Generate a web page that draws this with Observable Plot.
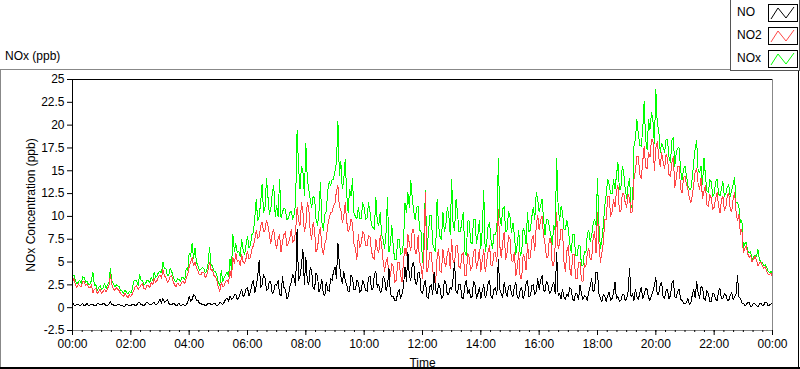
<!DOCTYPE html>
<html>
<head>
<meta charset="utf-8">
<script src="https://cdn.jsdelivr.net/npm/d3@7"></script>
<script src="https://cdn.jsdelivr.net/npm/@observablehq/plot@0.6"></script>
<style>
  html, body { margin: 0; padding: 0; background: #fff; }
  #wrap { position: relative; width: 800px; height: 369px; overflow: hidden; font-family: "Liberation Sans", Arial, sans-serif; font-size: 12px; color: #000; }
  #chart { position: absolute; left: 0; top: 0; }
  .deco { position: absolute; }
  #title { position: absolute; left: 5px; top: 49px; font-size: 12px; }
  #legend { position: absolute; left: 730px; top: 0; width: 68px; height: 70px; background: #fff; border: 1px solid #555; border-top: none; }
  .lg-item { position: absolute; left: 6px; font-size: 12px; }
  .lg-sw { position: absolute; left: 37px; width: 28px; height: 16px; border: 1px solid #000; background: #fff; }
</style>
</head>
<body>
<div id="wrap">
  <div class="deco" style="left:0;top:69px;width:730px;height:1px;background:#888"></div>
  <div class="deco" style="left:0;top:69px;width:1px;height:300px;background:#888"></div>
  <div class="deco" style="left:0;top:367px;width:800px;height:2px;background:#000"></div>
  <div class="deco" style="left:798px;top:71px;width:1px;height:298px;background:#000"></div>
  <div id="chart"></div>
  <div id="title">NOx (ppb)</div>
  <div id="legend"></div>
</div>
<script>
// sampling step of the readings, minutes (00:00 .. 24:00)
const stepMinutes = 3;

// NO2 (red), one row per hour
const no2 = [
  2.8, 3.2, 2.5, 2.2, 2.6, 2.4, 2.3, 2.9, 2.9, 2.4, 2.6, 2.2, 2.2, 2.5, 1.6, 2.0, 2.1, 1.5, 1.8, 2.0,
  1.5, 1.8, 2.0, 1.7, 2.1, 2.4, 3.6, 2.5, 2.1, 1.9, 2.2, 2.0, 1.9, 1.5, 1.4, 1.2, 1.6, 1.3, 1.1, 1.4,
  1.2, 1.5, 1.9, 2.3, 2.4, 2.0, 2.2, 2.5, 2.6, 2.1, 2.0, 2.4, 2.4, 2.2, 2.8, 2.5, 3.2, 2.8, 3.0, 3.4,
  3.6, 3.2, 4.2, 3.5, 3.3, 2.8, 2.9, 3.4, 3.5, 2.9, 2.5, 2.3, 2.7, 2.5, 2.4, 2.8, 2.9, 2.6, 3.3, 3.6,
  4.5, 5.0, 5.5, 4.6, 5.0, 4.4, 4.0, 3.6, 3.6, 3.9, 3.9, 3.3, 3.5, 4.2, 5.0, 4.1, 4.2, 3.5, 3.4, 3.0,
  2.2, 1.8, 2.8, 2.3, 2.4, 2.9, 3.0, 2.7, 4.0, 3.3, 5.5, 4.8, 6.0, 5.0, 5.2, 4.6, 5.8, 5.0, 4.8, 5.4,
  6.2, 5.3, 5.5, 6.4, 6.8, 7.5, 8.5, 7.6, 7.8, 8.9, 9.4, 8.3, 8.5, 9.6, 9.0, 8.0, 7.0, 8.2, 8.6, 7.2,
  6.5, 7.6, 8.0, 6.1, 7.2, 8.0, 8.3, 6.8, 7.0, 7.6, 8.6, 7.1, 7.4, 8.4, 11.0, 9.6, 9.0, 11.5, 10.5, 8.3,
  9.0, 11.5, 11.0, 8.4, 7.5, 9.3, 8.5, 6.1, 6.5, 8.0, 8.8, 6.6, 5.8, 7.0, 7.5, 9.0, 9.8, 10.4, 10.5, 11.1,
  11.5, 12.8, 13.4, 11.0, 10.8, 9.3, 10.0, 11.5, 9.5, 8.3, 8.6, 9.7, 9.2, 7.0, 6.5, 5.3, 8.0, 6.6, 7.0, 8.3,
  8.0, 6.8, 6.8, 7.9, 7.8, 6.2, 5.5, 5.3, 7.5, 6.4, 6.0, 7.9, 6.8, 5.1, 4.0, 5.0, 5.5, 3.2, 3.5, 4.8,
  4.5, 2.8, 3.0, 4.9, 5.0, 3.6, 2.8, 5.3, 6.5, 5.7, 8.0, 7.0, 6.2, 8.6, 8.6, 5.9, 6.0, 7.9, 5.0, 4.6,
  3.2, 6.0, 12.6, 3.9, 4.5, 6.1, 6.0, 4.2, 3.0, 2.8, 5.5, 6.4, 4.0, 3.9, 6.4, 5.1, 4.5, 6.0, 6.5, 4.3,
  7.5, 5.0, 4.8, 6.8, 6.8, 4.5, 4.3, 5.8, 6.0, 3.5, 3.5, 5.9, 5.5, 4.1, 4.5, 6.1, 6.4, 4.3, 5.0, 6.4,
  4.0, 5.2, 6.4, 3.9, 5.0, 6.2, 6.8, 4.6, 4.6, 6.0, 6.0, 5.0, 10.8, 6.8, 5.5, 7.2, 8.3, 5.3, 6.0, 7.9,
  7.5, 5.2, 5.0, 6.1, 3.5, 4.4, 6.0, 3.2, 3.2, 5.8, 5.5, 4.1, 7.0, 5.3, 5.5, 7.5, 7.9, 6.2, 9.0, 10.1,
  8.5, 9.6, 10.0, 7.9, 7.0, 5.5, 5.5, 7.6, 7.5, 4.6, 4.6, 6.8, 10.4, 6.5, 7.0, 8.6, 8.6, 5.0, 4.0, 6.2,
  6.8, 4.3, 3.5, 5.8, 5.8, 3.2, 3.2, 5.0, 5.0, 3.0, 2.8, 4.8, 4.5, 5.9, 6.5, 5.3, 5.3, 7.6, 8.3, 6.0,
  10.4, 7.0, 5.0, 6.0, 7.1, 9.7, 9.7, 12.2, 12.2, 10.0, 10.5, 11.8, 11.0, 12.8, 13.4, 10.5, 10.5, 12.5, 12.5, 11.5,
  11.0, 12.4, 12.0, 10.4, 10.5, 14.1, 15.0, 16.6, 16.6, 14.6, 14.1, 16.0, 17.7, 15.4, 15.2, 17.0, 16.5, 18.4, 18.4, 15.0,
  17.5, 18.2, 16.5, 15.5, 17.0, 16.0, 15.2, 16.8, 16.3, 14.6, 14.4, 15.9, 16.6, 13.2, 14.1, 15.5, 15.5, 13.0, 12.6, 14.3,
  14.4, 13.5, 13.0, 12.0, 11.5, 12.3, 13.5, 15.0, 15.2, 13.6, 13.0, 14.2, 12.0, 12.8, 13.4, 11.3, 11.1, 12.4, 12.0, 10.8,
  11.0, 12.0, 12.6, 11.2, 10.4, 11.8, 12.2, 10.6, 11.0, 12.3, 12.5, 10.8, 10.5, 11.9, 12.6, 10.6, 9.5, 10.2, 8.0, 8.6,
  6.0, 6.5, 6.8, 5.9, 5.5, 5.7, 5.0, 5.3, 5.6, 5.2, 4.6, 4.9, 5.0, 4.6, 4.3, 4.5, 4.0, 3.7, 3.6, 3.8, 3.4
];

// NOx (green)
const nox = [
  3.4, 3.6, 2.9, 2.6, 2.8, 3.0, 2.6, 3.4, 3.3, 2.8, 2.9, 2.5, 2.6, 3.0, 3.9, 2.4, 2.5, 1.9, 2.2, 2.4,
  2.0, 2.2, 2.6, 2.1, 2.5, 2.8, 4.3, 2.9, 2.6, 2.3, 2.5, 2.4, 2.3, 1.9, 1.8, 1.6, 1.9, 1.7, 1.5, 1.8,
  1.6, 2.0, 2.9, 3.0, 3.0, 2.4, 3.6, 3.0, 3.0, 2.5, 2.6, 3.0, 3.0, 2.7, 3.3, 3.0, 3.9, 3.3, 3.5, 3.9,
  4.0, 3.8, 5.0, 4.3, 4.3, 3.5, 3.5, 4.3, 4.0, 3.4, 3.0, 2.8, 3.2, 3.1, 2.9, 3.3, 3.3, 3.1, 4.3, 4.1,
  6.0, 5.6, 7.1, 5.4, 6.5, 5.0, 4.6, 4.1, 4.2, 4.4, 4.3, 3.8, 4.0, 4.9, 6.6, 4.7, 4.6, 4.0, 4.0, 3.5,
  2.8, 2.4, 4.1, 2.9, 3.3, 3.6, 3.9, 3.4, 5.3, 4.2, 8.0, 6.2, 7.0, 6.0, 6.2, 5.6, 7.5, 6.3, 5.8, 6.9,
  7.8, 6.6, 6.8, 8.0, 8.2, 9.8, 11.9, 9.5, 10.0, 11.5, 13.5, 10.4, 11.0, 14.1, 12.2, 10.2, 10.8, 12.6, 13.4, 10.0,
  11.2, 10.0, 14.1, 9.8, 10.5, 10.9, 10.8, 9.6, 9.8, 10.4, 10.6, 9.7, 10.2, 11.5, 19.4, 15.5, 13.0, 15.5, 15.0, 12.3,
  18.0, 14.1, 13.0, 11.9, 11.0, 12.2, 12.0, 9.7, 9.0, 10.5, 13.7, 9.4, 8.5, 10.2, 10.5, 12.8, 13.8, 13.4, 14.0, 14.1,
  15.0, 15.9, 20.4, 14.5, 16.0, 13.0, 14.0, 16.3, 12.5, 10.4, 13.0, 12.2, 14.1, 10.4, 10.0, 9.7, 11.0, 9.8, 9.8, 11.5,
  11.0, 9.7, 9.8, 11.5, 10.5, 9.0, 8.8, 8.6, 12.1, 9.4, 9.0, 10.4, 8.0, 7.5, 6.5, 8.2, 12.1, 6.1, 7.0, 9.0,
  6.5, 5.3, 5.3, 7.5, 7.5, 5.8, 6.0, 7.2, 11.5, 10.4, 12.6, 11.0, 13.9, 12.0, 10.5, 9.6, 11.0, 11.1, 8.5, 8.3,
  5.0, 8.0, 12.8, 6.1, 8.0, 10.1, 10.1, 7.0, 6.5, 6.1, 11.9, 9.0, 7.8, 7.5, 10.5, 8.3, 9.0, 11.0, 10.2, 8.0,
  14.1, 9.0, 8.5, 11.9, 10.4, 8.3, 8.3, 9.5, 10.4, 6.2, 5.7, 9.5, 9.5, 7.2, 7.0, 9.7, 9.7, 7.0, 8.0, 9.6,
  6.5, 8.6, 12.8, 6.1, 7.0, 9.0, 9.3, 7.4, 6.5, 8.0, 8.0, 8.6, 16.3, 10.0, 9.0, 10.8, 11.1, 8.3, 8.5, 10.5,
  10.0, 8.2, 9.3, 8.0, 5.8, 7.0, 8.5, 5.7, 6.0, 8.7, 8.3, 7.0, 10.4, 8.3, 8.5, 10.0, 11.0, 9.7, 12.6, 11.9,
  10.5, 11.2, 11.9, 9.7, 8.0, 9.7, 9.7, 8.8, 8.0, 6.9, 9.0, 8.5, 16.3, 11.1, 9.5, 11.1, 10.5, 8.6, 8.6, 9.6,
  8.6, 7.0, 6.0, 8.0, 8.0, 5.7, 5.7, 6.8, 6.8, 4.6, 4.6, 6.2, 6.0, 8.0, 8.5, 7.2, 7.9, 9.2, 9.7, 9.0,
  14.1, 9.0, 6.5, 7.5, 9.0, 11.2, 12.5, 14.1, 13.5, 12.5, 12.5, 14.0, 13.0, 14.5, 15.9, 13.0, 13.0, 15.5, 14.8, 13.0,
  12.0, 13.5, 14.1, 11.2, 10.8, 17.7, 18.5, 20.6, 19.0, 17.8, 17.7, 19.5, 22.6, 18.4, 17.3, 20.6, 19.5, 21.4, 20.5, 18.0,
  23.9, 20.0, 19.5, 17.0, 18.0, 17.6, 17.0, 18.4, 18.4, 16.5, 15.9, 18.3, 18.7, 15.5, 17.0, 17.5, 17.5, 15.0, 14.0, 15.2,
  15.5, 14.5, 13.4, 13.0, 13.0, 14.2, 16.0, 17.5, 18.3, 15.0, 14.8, 15.5, 13.5, 16.4, 14.5, 12.8, 12.6, 14.0, 13.8, 12.2,
  12.5, 13.8, 14.1, 12.5, 12.2, 13.0, 13.8, 12.2, 12.5, 13.2, 13.5, 12.2, 12.8, 13.5, 14.3, 11.5, 11.5, 11.0, 9.3, 9.6,
  6.5, 7.0, 7.2, 6.2, 6.0, 6.1, 5.2, 5.6, 5.8, 5.6, 6.4, 5.3, 5.0, 5.0, 4.6, 4.7, 4.5, 4.0, 3.8, 4.0, 3.6
];

// NO (black)
const no = [
  0.6, 0.3, 0.2, 0.4, 0.4, 0.2, 0.3, 0.5, 0.2, 0.3, 0.5, 0.2, 0.3, 0.4, 0.4, 0.2, 0.2, 0.5, 0.4, 0.3,
  0.3, 0.5, 0.4, 0.2, 0.2, 0.4, 0.7, 0.3, 0.3, 0.2, 0.2, 0.4, 0.4, 0.2, 0.3, 0.1, 0.2, 0.4, 0.3, 0.2,
  0.2, 0.4, 0.4, 0.2, 0.3, 0.5, 0.6, 0.3, 0.3, 0.2, 0.4, 0.6, 0.5, 0.3, 0.3, 0.5, 0.6, 0.3, 0.4, 0.6,
  0.9, 0.5, 1.0, 0.6, 0.7, 0.9, 0.5, 0.3, 0.3, 0.5, 0.4, 0.2, 0.3, 0.5, 0.2, 0.3, 0.4, 0.2, 0.3, 0.6,
  1.2, 0.7, 0.9, 1.4, 1.3, 0.8, 0.8, 0.5, 0.5, 0.3, 0.4, 0.2, 0.3, 0.5, 0.5, 0.3, 0.3, 0.5, 0.4, 0.2,
  0.3, 0.6, 0.5, 0.3, 0.6, 0.9, 1.0, 0.7, 1.3, 0.9, 1.0, 1.4, 1.5, 0.9, 1.1, 1.6, 2.0, 1.2, 1.4, 2.1,
  2.2, 1.3, 1.7, 2.6, 3.0, 1.6, 2.4, 3.4, 5.2, 2.2, 2.5, 3.6, 3.3, 1.9, 2.0, 2.9, 2.8, 1.5, 1.8, 2.6,
  2.4, 3.0, 1.5, 1.3, 3.4, 2.2, 2.0, 1.0, 1.2, 2.3, 2.8, 3.6, 3.2, 2.4, 8.6, 3.0, 3.5, 4.6, 6.4, 2.5,
  5.5, 3.0, 2.5, 4.4, 4.0, 2.1, 2.0, 3.8, 3.5, 1.7, 2.2, 3.1, 1.5, 1.3, 2.8, 1.9, 1.8, 3.2, 3.0, 4.0,
  4.5, 3.2, 7.1, 4.8, 3.5, 2.6, 4.0, 3.0, 2.5, 1.8, 1.8, 3.6, 3.3, 2.0, 2.0, 3.0, 2.8, 1.7, 1.9, 3.0,
  2.5, 1.9, 1.8, 3.3, 3.5, 2.0, 2.0, 3.6, 4.0, 2.2, 2.5, 1.7, 1.8, 3.4, 3.2, 1.9, 2.4, 4.3, 1.5, 1.2,
  1.2, 0.8, 0.8, 1.6, 2.0, 1.0, 1.5, 2.4, 4.5, 2.9, 6.1, 3.4, 3.0, 4.8, 5.0, 2.8, 2.5, 3.9, 3.9, 1.8,
  1.5, 2.5, 3.0, 1.2, 1.0, 2.3, 2.5, 1.4, 3.9, 1.9, 1.5, 2.6, 2.2, 1.0, 1.2, 3.0, 2.8, 1.4, 1.5, 2.2,
  2.0, 3.3, 5.0, 1.8, 1.5, 2.6, 2.5, 1.1, 1.0, 2.4, 3.0, 1.5, 2.0, 1.1, 1.2, 2.9, 2.5, 1.0, 1.5, 2.2,
  1.0, 1.9, 2.5, 1.1, 1.5, 2.7, 3.0, 1.3, 1.0, 2.0, 2.2, 1.4, 5.3, 2.0, 1.5, 1.1, 2.8, 1.8, 1.2, 2.3,
  2.5, 1.5, 1.2, 2.3, 2.8, 1.1, 1.0, 2.0, 2.2, 1.0, 1.5, 2.6, 3.0, 1.2, 1.3, 2.4, 2.5, 1.4, 1.8, 3.2,
  2.0, 3.0, 3.5, 1.9, 1.8, 2.9, 2.5, 1.6, 1.7, 2.4, 2.8, 1.5, 6.1, 1.3, 1.5, 1.0, 2.0, 1.2, 0.9, 1.5,
  1.2, 2.2, 2.0, 0.9, 0.8, 1.6, 1.5, 0.9, 2.5, 1.5, 0.9, 1.3, 1.2, 0.8, 1.7, 2.4, 3.2, 1.7, 2.0, 3.9,
  3.9, 1.5, 1.0, 0.7, 1.5, 1.2, 0.7, 1.3, 1.7, 0.8, 1.0, 1.6, 2.8, 1.0, 1.2, 0.7, 0.8, 1.4, 1.5, 0.8,
  1.0, 1.8, 4.3, 1.2, 1.5, 0.8, 2.0, 1.2, 0.9, 1.6, 2.2, 1.0, 1.4, 2.1, 2.0, 1.1, 0.8, 1.3, 1.8, 2.4,
  3.3, 1.4, 1.5, 2.5, 2.8, 1.2, 1.0, 1.9, 2.0, 1.0, 1.3, 2.7, 3.0, 1.2, 1.1, 1.8, 2.0, 0.9, 0.8, 0.5,
  0.4, 0.6, 1.0, 0.3, 0.5, 1.4, 2.0, 1.1, 2.9, 1.6, 1.0, 2.3, 2.2, 1.0, 0.8, 1.9, 1.5, 0.7, 0.7, 1.6,
  1.5, 0.9, 0.8, 1.8, 2.1, 1.0, 1.0, 1.5, 1.4, 0.8, 0.8, 1.3, 1.7, 0.9, 1.2, 1.5, 3.5, 1.2, 1.0, 0.5,
  0.5, 0.2, 0.3, 0.6, 0.6, 0.1, 0.2, 0.5, 0.4, 0.2, 0.1, 0.4, 0.5, 0.2, 0.3, 0.6, 0.6, 0.2, 0.3, 0.4, 0.5
];

const seriesNames = ["NO", "NO2", "NOx"];
const seriesColors = ["#000000", "#ff4747", "#00ff00"];

const xMajorTicks = [0, 2, 4, 6, 8, 10, 12, 14, 16, 18, 20, 22, 24];
const xTickLabels = ["00:00","02:00","04:00","06:00","08:00","10:00","12:00","14:00","16:00","18:00","20:00","22:00","00:00"];
const yTicks = [25, 22.5, 20, 17.5, 15, 12.5, 10, 7.5, 5, 2.5, 0, -2.5];
const yTickLabels = ["25","22.5","20","17.5","15","12.5","10","7.5","5","2.5","0","-2.5"];

const xMinorTicks = d3.range(0, 24 * 3 + 1).map(i => i / 3);
const rows = no2.map((v, i) => ({t: i * stepMinutes / 60, NO: no[i], NO2: v, NOx: nox[i]}));
const xLab = new Map(xMajorTicks.map((t, i) => [t, xTickLabels[i]]));
const yLab = new Map(yTicks.map((t, i) => [t, yTickLabels[i]]));

const chart = Plot.plot({
  width: 800,
  height: 369,
  marginTop: 79,
  marginBottom: 39,
  marginLeft: 72,
  marginRight: 28,
  x: {domain: [0, 24]},
  y: {domain: [-2.5, 25]},
  style: {fontFamily: "'Liberation Sans', Arial, sans-serif", fontSize: "12px", color: "#000", background: "transparent", overflow: "visible"},
  marks: [
    Plot.line(rows, {x: "t", y: "NOx", stroke: seriesColors[2], strokeWidth: 1, shapeRendering: "crispEdges"}),
    Plot.line(rows, {x: "t", y: "NO2", stroke: seriesColors[1], strokeWidth: 1, shapeRendering: "crispEdges"}),
    Plot.line(rows, {x: "t", y: "NO", stroke: seriesColors[0], strokeWidth: 1, shapeRendering: "crispEdges"}),
    Plot.ruleY([-2.5], {stroke: "#888"}),
    Plot.ruleX([24], {stroke: "#888"}),
    Plot.ruleY([25], {stroke: "#000"}),
    Plot.ruleX([0], {stroke: "#000"}),
    Plot.axisY({ticks: yTicks, tickFormat: d => yLab.get(d), tickSize: 5, tickPadding: 3, fontSize: 12,
      label: "NOx Concentration (ppb)", labelAnchor: "center", labelOffset: 46, labelArrow: "none"}),
    Plot.axisX({ticks: xMinorTicks, tickFormat: () => "", tickSize: 2, label: null}),
    Plot.axisX({ticks: xMajorTicks, tickFormat: d => xLab.get(d), tickSize: 5, tickPadding: 4, fontSize: 12,
      label: "Time", labelAnchor: "center", labelOffset: 36, labelArrow: "none"})
  ]
});
document.getElementById("chart").appendChild(chart);

// legend
const legend = document.getElementById("legend");
const tops = [4, 27, 50];
seriesNames.forEach((name, i) => {
  const lab = document.createElement("div");
  lab.className = "lg-item";
  lab.style.top = (tops[i] + 1) + "px";
  lab.textContent = name;
  legend.appendChild(lab);
  const sw = document.createElement("div");
  sw.className = "lg-sw";
  sw.style.top = tops[i] + "px";
  sw.innerHTML = `<svg width="28" height="16"><polyline points="2,14 9,3 17,13 25,2" fill="none" stroke="${seriesColors[i]}" stroke-width="1"/></svg>`;
  legend.appendChild(sw);
});
</script>
</body>
</html>
